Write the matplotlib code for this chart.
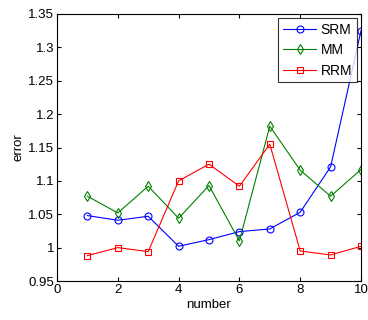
import matplotlib
matplotlib.use('Agg')
from matplotlib import pyplot as plt
import numpy as np

number = np.arange(1, 11)
srm = [1.048, 1.041, 1.047, 1.002, 1.012, 1.024, 1.028, 1.053, 1.121, 1.325]
mm = [1.077, 1.052, 1.092, 1.044, 1.093, 1.010, 1.182, 1.116, 1.077, 1.117]
rrm = [0.988, 1.000, 0.994, 1.100, 1.125, 1.092, 1.155, 0.995, 0.989, 1.002]

plt.rcParams['font.family'] = ['Liberation Sans', 'DejaVu Sans']
plt.rcParams['font.size'] = 9.5

fig = plt.figure(figsize=(3.68, 3.2), dpi=100)
ax = fig.add_axes([57/368, 1 - 281/320, (361-57)/368, (281-14)/320])

ax.plot(number, srm, color='blue', marker='o', mfc='none', ms=5, mew=0.8, lw=0.8, label='SRM')
ax.plot(number, mm, color='green', marker='d', mfc='none', ms=5, mew=0.8, lw=0.8, label='MM')
ax.plot(number, rrm, color='red', marker='s', mfc='none', ms=5, mew=0.8, lw=0.8, label='RRM')

ax.set_xlim(0, 10)
ax.set_ylim(0.95, 1.35)
ax.set_xticks(np.arange(0, 11, 2))
ax.set_yticks(np.arange(0.95, 1.351, 0.05))
ax.set_yticklabels(['0.95', '1', '1.05', '1.1', '1.15', '1.2', '1.25', '1.3', '1.35'])
ax.tick_params(direction='in', top=True, right=True, length=3, pad=2)
for s in ax.spines.values():
    s.set_linewidth(0.8)
ax.set_xlabel('number', labelpad=2)
ax.set_ylabel('error', labelpad=3)

leg = ax.legend(loc='upper right', fancybox=False, edgecolor='black',
                borderaxespad=0.3, handlelength=2.4, labelspacing=0.45,
                fontsize=10, borderpad=0.35, handletextpad=0.3)
leg.get_frame().set_linewidth(0.8)

fig.savefig('out.png', dpi=100)
